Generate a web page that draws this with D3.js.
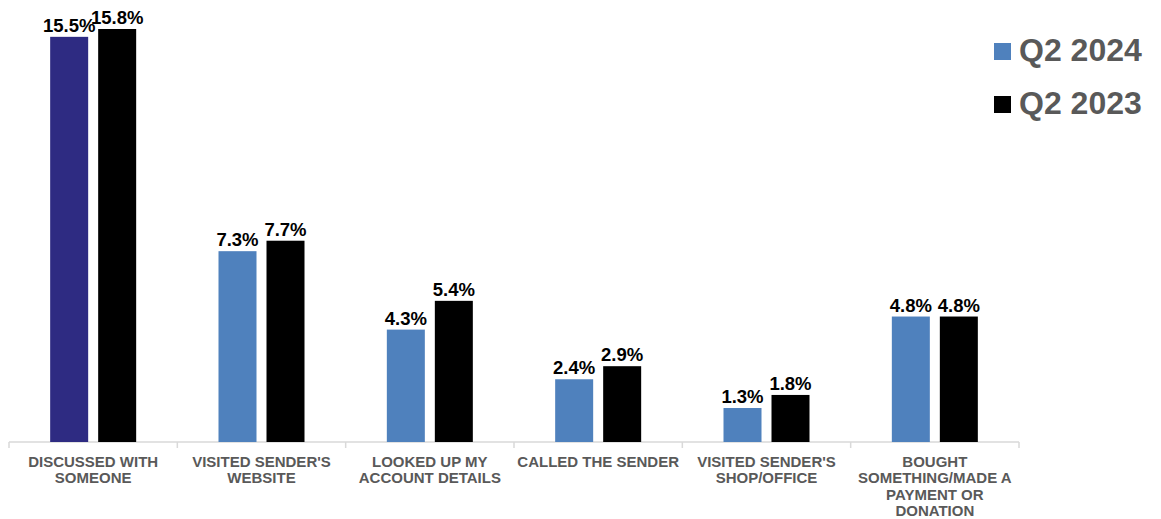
<!DOCTYPE html>
<html>
<head>
<meta charset="utf-8">
<script src="https://cdn.jsdelivr.net/npm/d3@7"></script>
<style>
body { margin: 0; background: #fff; }
text { font-family: "Liberation Sans", Arial, sans-serif; font-weight: bold; }
</style>
</head>
<body>
<svg id="chart" width="1161" height="519"></svg>
<script>
const categories = [
	["DISCUSSED WITH", "SOMEONE"],
	["VISITED SENDER'S", "WEBSITE"],
	["LOOKED UP MY", "ACCOUNT DETAILS"],
	["CALLED THE SENDER"],
	["VISITED SENDER'S", "SHOP/OFFICE"],
	["BOUGHT", "SOMETHING/MADE A", "PAYMENT OR", "DONATION"]
];
const series = ["Q2 2024", "Q2 2023"];
const q2024 = [15.5, 7.3, 4.3, 2.4, 1.3, 4.8];
const q2023 = [15.8, 7.7, 5.4, 2.9, 1.8, 4.8];

const svg = d3.select("#chart");
const left = 9, right = 1019, base = 442;
const barW = 38, gap = 10;

const x = d3.scaleBand()
	.domain(d3.range(categories.length))
	.range([left, right]);

const y = d3.scaleLinear()
	.domain([0, 15.8])
	.range([base, 29]);

const colors = ["#4F81BD", "#000000"];
const firstColor = "#2E2B82";

// axis line + ticks
svg.append("line")
	.attr("x1", left).attr("x2", right)
	.attr("y1", base).attr("y2", base)
	.attr("stroke", "#D9D9D9").attr("stroke-width", 1.5);

svg.selectAll(".tick")
	.data(d3.range(categories.length + 1))
	.enter()
	.append("line")
	.attr("x1", d => left + d * x.bandwidth())
	.attr("x2", d => left + d * x.bandwidth())
	.attr("y1", base).attr("y2", base + 6)
	.attr("stroke", "#D9D9D9").attr("stroke-width", 1.5);

const data = [q2024, q2023];
data.forEach(function (vals, s) {
	const off = s === 0 ? -(barW + gap / 2) : gap / 2;
	svg.selectAll(".bar" + s)
		.data(vals)
		.enter()
		.append("rect")
		.attr("class", "bar" + s)
		.attr("x", (d, i) => x(i) + x.bandwidth() / 2 + off)
		.attr("y", d => y(d))
		.attr("width", barW)
		.attr("height", d => base - y(d))
		.attr("fill", (d, i) => (s === 0 && i === 0) ? firstColor : colors[s]);

	svg.selectAll(".lab" + s)
		.data(vals)
		.enter()
		.append("text")
		.attr("class", "lab" + s)
		.attr("x", (d, i) => x(i) + x.bandwidth() / 2 + off + barW / 2)
		.attr("y", d => y(d) - 5)
		.attr("text-anchor", "middle")
		.attr("font-size", 18.5)
		.attr("fill", "#000")
		.text(d => d.toFixed(1) + "%");
});

// category labels
const cat = svg.selectAll(".cat")
	.data(categories)
	.enter()
	.append("text")
	.attr("class", "cat")
	.attr("text-anchor", "middle")
	.attr("font-size", 15)
	.attr("fill", "#595959");

cat.selectAll("tspan")
	.data((d, i) => d.map(t => ({ t: t, i: i })))
	.enter()
	.append("tspan")
	.attr("x", d => x(d.i) + x.bandwidth() / 2)
	.attr("y", (d, j) => 467 + j * 16.4)
	.text(d => d.t);

// legend
const leg = svg.selectAll(".leg")
	.data(series)
	.enter()
	.append("g")
	.attr("class", "leg")
	.attr("transform", (d, i) => `translate(994,${43 + i * 53})`);

leg.append("rect")
	.attr("width", 17).attr("height", 17)
	.attr("fill", (d, i) => colors[i]);

leg.append("text")
	.attr("x", 25).attr("y", 18)
	.attr("font-size", 32)
	.attr("fill", "#595959")
	.text(d => d);
</script>
</body>
</html>
